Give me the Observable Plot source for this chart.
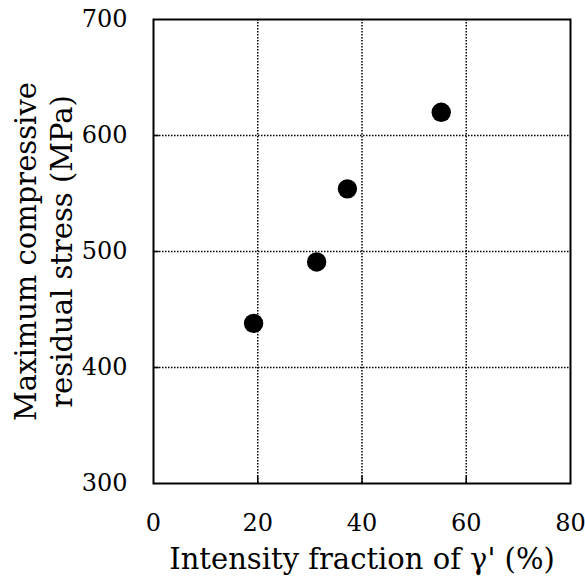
<!DOCTYPE html>
<html><head><meta charset="utf-8">
<script src="https://cdn.jsdelivr.net/npm/d3@7"></script>
<script src="https://cdn.jsdelivr.net/npm/@observablehq/plot@0.6"></script>
<style>body{margin:0;background:#fff}</style>
</head><body><div id="chart"></div>
<script>
const intensity = [19.2, 31.3, 37.2, 55.2];
const stress = [438, 491, 554, 620];
const xTicks = [0, 20, 40, 60, 80];
const yTicks = [300, 400, 500, 600, 700];
const xGrid = [20, 40, 60];
const yGrid = [400, 500, 600];
const xTitle = "Intensity fraction of γ' (%)";
const yTitle = "Maximum compressive\nresidual stress (MPa)";

const data = intensity.map((x, i) => ({x, y: stress[i]}));
const font = "DejaVu Serif";

const chart = Plot.plot({
  width: 585, height: 580,
  marginLeft: 153, marginRight: 15, marginTop: 19, marginBottom: 97,
  style: {fontFamily: font, fontSize: "24px", color: "#000", background: "#fff"},
  x: {domain: [0, 80], ticks: xTicks},
  y: {domain: [300, 700], ticks: yTicks},
  marks: [
    Plot.ruleX(xGrid, {stroke: "#000", strokeWidth: 1.5, strokeDasharray: "1.5 1.5"}),
    Plot.ruleY(yGrid, {stroke: "#000", strokeWidth: 1.5, strokeDasharray: "1.5 1.5"}),
    Plot.ruleY(yGrid, {x1: 0, x2: 1.1, stroke: "#000", strokeWidth: 1.5}),
    Plot.ruleX(xGrid, {y1: 300, y2: 306, stroke: "#000", strokeWidth: 1.5}),
    Plot.frame({stroke: "#000", strokeWidth: 2}),
    Plot.axisX({ticks: xTicks, tickSize: 0, tickPadding: 30, tickFormat: d => String(d), fontSize: 24, label: null}),
    Plot.axisY({ticks: yTicks, tickSize: 0, tickPadding: 26, tickFormat: d => String(d), fontSize: 24, label: null}),
    Plot.dot(data, {x: "x", y: "y", r: 9.7, fill: "#000", stroke: "none"}),
    Plot.text([xTitle], {frameAnchor: "bottom", dy: 76, fontSize: 29, lineAnchor: "middle", fill: "#000"}),
    Plot.text([yTitle], {frameAnchor: "left", dx: -111, rotate: -90, fontSize: 29, lineHeight: 1.25, lineAnchor: "middle", textAnchor: "middle", fill: "#000"})
  ]
});
document.getElementById("chart").appendChild(chart);
</script></body></html>
